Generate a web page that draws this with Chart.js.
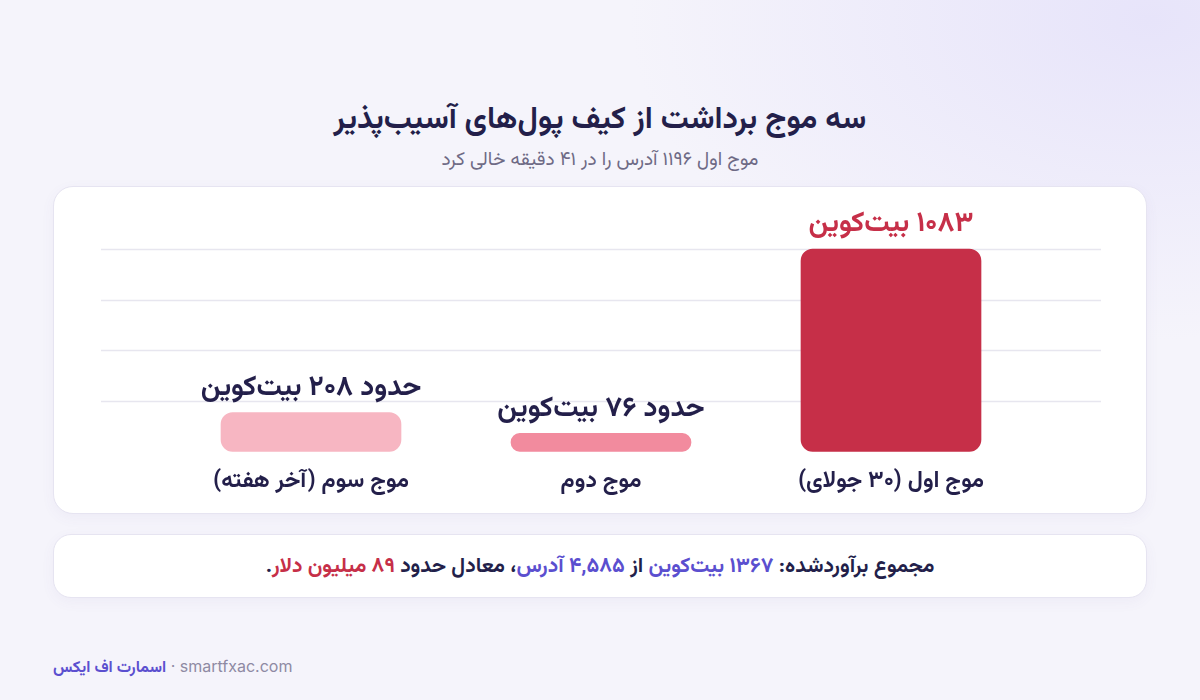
<!DOCTYPE html>
<html lang="fa">
<head>
<meta charset="utf-8">
<script src="https://cdn.jsdelivr.net/npm/chart.js@4.4.1/dist/chart.umd.min.js"></script>
<style>
  html, body { margin: 0; padding: 0; }
  body {
    width: 1200px; height: 700px; position: relative; overflow: hidden;
    font-family: Vazirmatn, 'Noto Sans Arabic', 'DejaVu Sans', sans-serif;
    background: radial-gradient(ellipse 520px 320px at 1150px 20px, #E7E4FA 0%, rgba(231,228,250,0) 100%), #F5F4FB;
    color: #231F4A;
  }
  .title { position: absolute; top: 100px; left: 0; width: 1200px; text-align: center;
    font-size: 31px; font-weight: bold; line-height: 42px; direction: rtl; }
  .subtitle { position: absolute; top: 149px; left: 0; width: 1200px; text-align: center;
    font-size: 19px; line-height: 24px; color: #6E6A85; direction: rtl; }
  .card { position: absolute; left: 53px; width: 1094px; background: #fff;
    border: 1px solid #E6E4F1; border-radius: 20px; box-sizing: border-box;
    box-shadow: 0 4px 14px rgba(90, 80, 160, 0.05); }
  #chartCard { top: 186px; height: 328px; }
  #chartCard canvas { direction: rtl; }
  #sumCard { top: 534px; height: 64px; display: flex; align-items: center; justify-content: center;
    font-size: 21px; font-weight: bold; direction: rtl; border-radius: 18px; }
  .blue { color: #5B4FCF; }
  .red { color: #C62F48; }
  .footer { position: absolute; left: 53px; top: 655px; font-size: 16px; line-height: 22px; direction: ltr; }
  .footer .brand { color: #5B4FCF; font-weight: bold; direction: rtl; unicode-bidi: isolate; }
  .footer .site { color: #8E8AA3; font-family: Inter, 'Open Sans', sans-serif; }
</style>
</head>
<body>
<div class="title">سه موج برداشت از کیف پول‌های آسیب‌پذیر</div>
<div class="subtitle">موج اول ۱۱۹۶ آدرس را در ۴۱ دقیقه خالی کرد</div>

<div class="card" id="chartCard">
  <canvas id="waveChart" width="1094" height="326"></canvas>
</div>

<div class="card" id="sumCard">
  <span>مجموع برآوردشده: <span class="blue">۱۳۶۷ بیت‌کوین</span> از <span class="blue">۴,۵۸۵ آدرس</span>، معادل حدود <span class="red">۸۹ میلیون دلار</span>.</span>
</div>

<div class="footer"><span class="brand">اسمارت اف ایکس</span><span class="site"> · smartfxac.com</span></div>

<script>
// Wave data (right-to-left order: first wave on the right)
const categories = ['موج اول (۳۰ جولای)', 'موج دوم', 'موج سوم (آخر هفته)'];
const btcValues = [1083, 76, 208];
const valueLabels = ['۱۰۸۳ بیت‌کوین', 'حدود ۷۶ بیت‌کوین', 'حدود ۲۰۸ بیت‌کوین'];
const barColors = ['#C62F48', '#F28B9E', '#F7B6C2'];
const labelColors = ['#C62F48', '#231F4A', '#231F4A'];

const FONT = "Vazirmatn, 'Noto Sans Arabic', 'DejaVu Sans', sans-serif";
const yMax = Math.max(...btcValues);

// gridlines wider than the bar area
const wideGrid = {
  id: 'wideGrid',
  beforeDatasetsDraw(chart) {
    const { ctx, scales: { y } } = chart;
    ctx.save();
    ctx.strokeStyle = '#E7E6EF';
    ctx.lineWidth = 1.5;
    y.ticks.forEach(t => {
      if (t.value === 0) return;
      const py = Math.round(y.getPixelForValue(t.value)) + 0.5;
      ctx.beginPath();
      ctx.moveTo(47, py);
      ctx.lineTo(1047, py);
      ctx.stroke();
    });
    ctx.restore();
  }
};

// value labels above each bar
const barLabels = {
  id: 'barLabels',
  afterDatasetsDraw(chart) {
    const { ctx } = chart;
    const meta = chart.getDatasetMeta(0);
    ctx.save();
    ctx.direction = 'rtl';
    ctx.textAlign = 'center';
    ctx.textBaseline = 'middle';
    ctx.font = `bold 28px ${FONT}`;
    meta.data.forEach((bar, i) => {
      ctx.fillStyle = labelColors[i];
      ctx.fillText(valueLabels[i], bar.x, bar.y - 22);
    });
    ctx.restore();
  }
};

new Chart(document.getElementById('waveChart'), {
  type: 'bar',
  data: {
    labels: categories,
    datasets: [{
      data: btcValues,
      backgroundColor: barColors,
      borderRadius: 12,
      borderSkipped: false,
      barThickness: 180,
      minBarLength: 18,
      clip: false
    }]
  },
  options: {
    responsive: false,
    animation: false,
    layout: { padding: { left: 112, right: 112, top: 62, bottom: 6 } },
    plugins: {
      legend: { display: false },
      tooltip: { enabled: false }
    },
    scales: {
      x: {
        reverse: true,
        grid: { display: false },
        border: { display: false },
        ticks: {
          color: '#231F4A',
          padding: 10,
          font: { family: FONT, size: 23, weight: 'bold' }
        }
      },
      y: {
        min: 0,
        max: yMax,
        display: false,
        ticks: { stepSize: yMax / 4 }
      }
    }
  },
  plugins: [wideGrid, barLabels]
});
</script>
</body>
</html>
